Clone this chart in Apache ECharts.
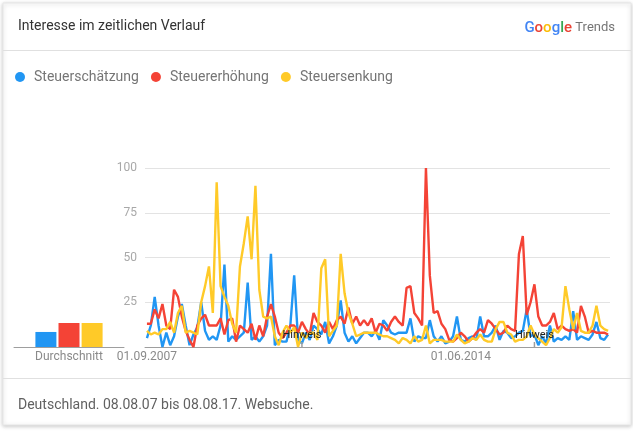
<!DOCTYPE html>
<html><head><meta charset="utf-8">
<script src="https://cdn.jsdelivr.net/npm/echarts@6/dist/echarts.min.js"></script>
<style>html,body{margin:0;padding:0;background:#fff}#c{width:633px;height:431px}</style>
</head><body><div id="c"></div>
<script>
const seriesNames = ['Steuerschätzung', 'Steuererhöhung', 'Steuersenkung'];
const colors = ['#2196f3', '#f44336', '#ffca28'];
const avgCategory = ['Durchschnitt'];
const averages = [8.4, 13.4, 13.4];
const xTickIdx = [0, 81];
const hinweisIdx = [40, 100];
const hinweisText = 'Hinweis';
const titleText = 'Interesse im zeitlichen Verlauf';
const footerText = 'Deutschland. 08.08.07 bis 08.08.17. Websuche.';

// monthly categories 01.09.2007 .. 01.08.2017
const categories = [];
for (let k = 0; k < 120; k++) {
  const m = (8 + k) % 12 + 1;
  const y = 2007 + Math.floor((8 + k) / 12);
  categories.push('01.' + String(m).padStart(2, '0') + '.' + y);
}

const steuerschaetzung = [
  5,12,28,12,0,8,1,6,17,24,12,1,7,11,25,9,4,6,4,
  12,46,3,6,4,6,8,36,4,6,3,6,12,52,1,4,3,3,12,
  40,4,2,8,4,12,10,7,14,2,6,12,26,8,3,6,2,5,8,
  8,6,9,4,15,12,8,7,8,8,8,16,3,6,5,5,15,6,3,6,2,
  3,6,17,4,3,5,6,4,17,6,6,8,12,4,9,8,5,6,8,9,
  21,6,7,1,6,2,12,3,5,4,6,4,20,4,6,5,4,7,14,5,4,7
];
const steuererhoehung = [
  13,13,21,16,24,12,10,32,28,17,9,4,0,12,16,18,12,12,12,
  16,7,15,16,3,12,10,8,13,4,12,6,17,24,17,8,5,8,12,
  12,8,14,10,7,19,14,12,8,14,10,15,17,13,22,13,17,12,15,
  12,16,8,13,12,9,14,17,14,12,33,34,19,16,12,100,40,19,20,13,10,
  4,3,5,8,6,3,5,8,10,8,15,13,10,7,8,12,10,9,52,62,
  18,25,35,17,12,12,14,19,10,12,10,9,10,8,23,17,8,9,8,8,8,7
];
const steuersenkung = [
  9,7,8,7,10,10,14,8,19,23,8,9,8,7,25,34,45,19,92,
  34,28,23,13,8,45,58,73,49,90,32,17,16,17,6,1,8,12,8,
  11,0,8,5,8,8,4,44,49,6,9,12,52,30,19,13,6,7,8,
  8,8,8,7,6,6,5,4,2,5,4,2,6,3,4,12,2,4,4,4,3,
  3,3,7,4,2,3,5,4,7,4,3,3,10,14,14,8,7,3,4,4,
  6,12,7,5,3,1,5,10,8,11,34,21,10,19,9,8,8,12,23,12,10,9
];
const lineData = [steuerschaetzung, steuererhoehung, steuersenkung];

const chart = echarts.init(document.getElementById('c'));
const series = [];
seriesNames.forEach((n, k) => {
  series.push({
    type: 'bar', name: n, xAxisIndex: 0, yAxisIndex: 0,
    data: [averages[k]], barWidth: 21, barGap: '10%',
    itemStyle: { color: colors[k] }, silent: true
  });
});
seriesNames.forEach((n, k) => {
  series.push({
    type: 'line', name: n, xAxisIndex: 1, yAxisIndex: 1,
    data: lineData[k], showSymbol: false, symbol: 'none',
    lineStyle: { width: 2.4, color: colors[k] }, itemStyle: { color: colors[k] }
  });
});
series.push({
  type: 'line', name: 'hinweis', xAxisIndex: 1, yAxisIndex: 1, data: [],
  markPoint: {
    symbol: 'rect', symbolSize: [1.5, 5], symbolOffset: [0, -2.5],
    itemStyle: { color: '#9e9e9e' },
    label: { show: true, formatter: hinweisText, position: 'top', distance: 1, color: '#222', fontSize: 11, fontFamily: 'Roboto' },
    data: hinweisIdx.map(i => ({ coord: [categories[i], 0] }))
  }
});

chart.setOption({
  animation: false,
  textStyle: { fontFamily: 'Roboto' },
  legend: {
    data: seriesNames, left: 10, top: 65, icon: 'circle',
    itemWidth: 18, itemHeight: 10, itemGap: 12,
    textStyle: { color: '#757575', fontSize: 14, fontFamily: 'Roboto' }
  },
  grid: [
    { left: 14, width: 110, top: 168, height: 179 },
    { left: 145, width: 465, top: 168, height: 179 }
  ],
  xAxis: [
    { gridIndex: 0, type: 'category', data: avgCategory,
      axisLine: { lineStyle: { color: '#9e9e9e' } }, axisTick: { show: false },
      axisLabel: { color: '#8a8a8a', fontSize: 12, margin: 4 } },
    { gridIndex: 1, type: 'category', data: categories, boundaryGap: true,
      axisLine: { lineStyle: { color: '#9e9e9e' } }, axisTick: { show: false },
      axisLabel: { color: '#8a8a8a', fontSize: 12, margin: 4, interval: (i) => xTickIdx.includes(i) } }
  ],
  yAxis: [
    { gridIndex: 0, type: 'value', min: 0, max: 100, show: false },
    { gridIndex: 1, type: 'value', min: 0, max: 100, interval: 25,
      axisLine: { show: false }, axisTick: { show: false },
      splitLine: { lineStyle: { color: '#e3e3e3' } },
      axisLabel: { color: '#a8a8a8', fontSize: 12, margin: 8, formatter: v => v === 0 ? '' : v } }
  ],
  graphic: [
    { type: 'rect', z: -10, shape: { x: 3, y: 3, width: 628, height: 422 },
      style: { fill: '#fff', stroke: '#e6e6e6', lineWidth: 1, shadowBlur: 4, shadowColor: 'rgba(0,0,0,0.22)', shadowOffsetY: 1 } },
    { type: 'line', z: -9, shape: { x1: 3, y1: 50.5, x2: 631, y2: 50.5 }, style: { stroke: '#e0e0e0', lineWidth: 1 } },
    { type: 'line', z: -9, shape: { x1: 3, y1: 378.5, x2: 631, y2: 378.5 }, style: { stroke: '#e0e0e0', lineWidth: 1 } },
    { type: 'text', x: 18, y: 26, style: { text: titleText, font: '14px Roboto', fill: '#333', verticalAlign: 'middle' } },
    { type: 'text', x: 615, y: 28, style: {
        text: '{b|G}{r|o}{y|o}{b|g}{g|l}{r|e} {t|Trends}', align: 'right', verticalAlign: 'middle',
        rich: {
          b: { fill: '#4285f4', fontSize: 15, fontFamily: 'Roboto', fontWeight: 500 },
          r: { fill: '#ea4335', fontSize: 15, fontFamily: 'Roboto', fontWeight: 500 },
          y: { fill: '#fbbc05', fontSize: 15, fontFamily: 'Roboto', fontWeight: 500 },
          g: { fill: '#34a853', fontSize: 15, fontFamily: 'Roboto', fontWeight: 500 },
          t: { fill: '#757575', fontSize: 13, fontFamily: 'Roboto' }
        } } },
    { type: 'text', x: 18, y: 405, style: { text: footerText, font: '14px Roboto', fill: '#616161', verticalAlign: 'middle' } }
  ],
  series: series
});
</script></body></html>
